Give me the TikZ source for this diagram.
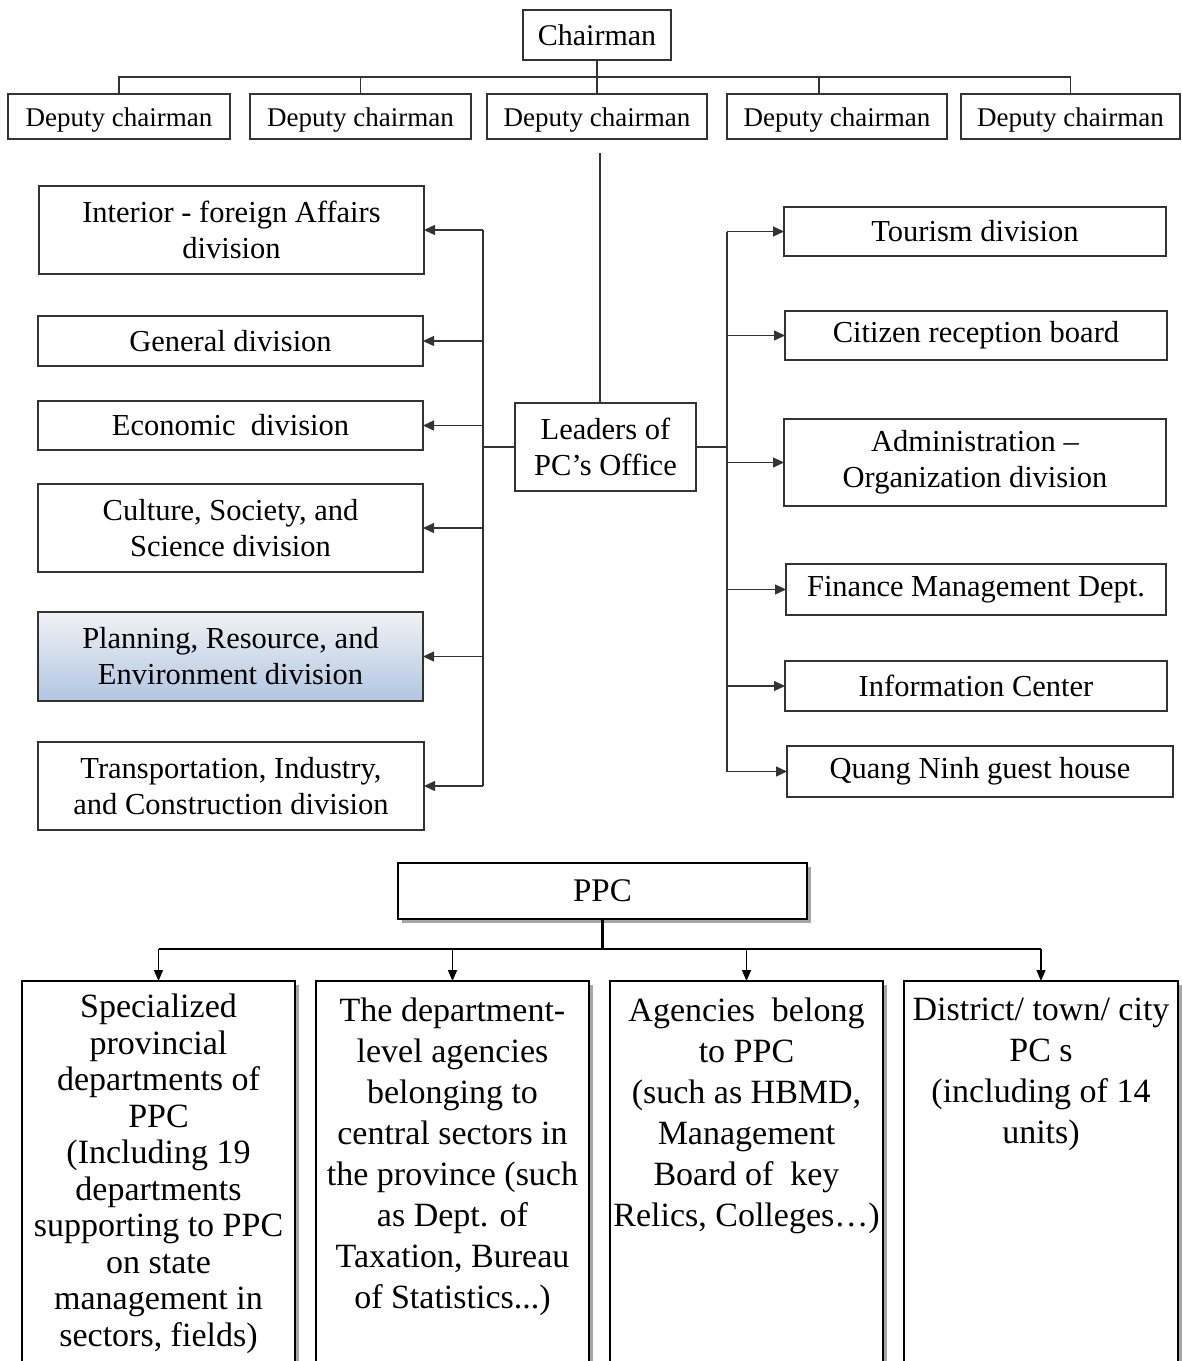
\documentclass[tikz,border=0pt]{standalone}
\usepackage{fontspec}
\setmainfont{Liberation Serif}
\usetikzlibrary{arrows.meta,shadows}
\definecolor{linegray}{HTML}{333333}
\definecolor{plantop}{HTML}{F0F2F5}
\definecolor{planmid}{HTML}{D3DDEA}
\definecolor{planbot}{HTML}{B1C6E1}
\begin{document}
\begin{tikzpicture}[x=1pt,y=-1pt,
  box/.style={draw=linegray,line width=1.3pt,fill=white,inner sep=0pt,outer sep=0pt,align=center},
  depfont/.style={font=\fontsize{27}{32}\selectfont,text height=26pt,text depth=6pt},
  midfont/.style={font=\fontsize{30.5}{36}\selectfont},
  conn/.style={draw=linegray,line width=1.3pt},
  arr/.style={conn,-{Triangle[length=11pt,width=10pt]}},
  bbox/.style={draw=black,line width=1.4pt,fill=white,inner sep=0pt,outer sep=0pt,
    drop shadow={shadow xshift=4pt,shadow yshift=-4pt,fill=black,opacity=0.35}},
  bline/.style={draw=black,line width=1.6pt},
  barr/.style={draw=black,line width=1.4pt,-{Triangle[length=11pt,width=9pt]}},
  btext/.style={inner sep=0pt,align=center,anchor=north}
]
\useasboundingbox (0,0) rectangle (1182,1361);
\clip (0,0) rectangle (1182,1361);
\fill[white] (0,0) rectangle (1182,1361);

% ---------- top: chairman and deputies ----------
\node[box,minimum width=148pt,minimum height=50pt,font=\fontsize{30}{34}\selectfont] (chair) at (597,35) {Chairman};
\node[box,depfont,minimum width=222pt,minimum height=45pt] (d1) at (119,116.5) {Deputy chairman};
\node[box,depfont,minimum width=221pt,minimum height=45pt] (d2) at (360.5,116.5) {Deputy chairman};
\node[box,depfont,minimum width=220pt,minimum height=45pt] (d3) at (597,116.5) {Deputy chairman};
\node[box,depfont,minimum width=220pt,minimum height=45pt] (d4) at (837,116.5) {Deputy chairman};
\node[box,depfont,minimum width=219pt,minimum height=45pt] (d5) at (1070.5,116.5) {Deputy chairman};
\coordinate (tbus) at (0,77);
\draw[conn] (chair.south) -- (d3.north);
\draw[conn] (d1.north) -- (d1.north |- tbus) -- (d5.north |- tbus) -- (d5.north);
\draw[conn] (d2.north |- tbus) -- (d2.north);
\draw[conn] ([xshift=-18pt]d4.north |- tbus) -- ([xshift=-18pt]d4.north);

% ---------- middle: PC's office ----------
\node[box,midfont,minimum width=181pt,minimum height=88pt] (lead) at (605.5,447) {Leaders of\\PC’s Office};
\coordinate (ltop) at (600,153);
\draw[conn] (ltop) -- (ltop |- lead.north);

\node[box,midfont,minimum width=385pt,minimum height=88pt] (interior) at (231.5,230) {Interior - foreign Affairs\\division};
\node[box,midfont,minimum width=385pt,minimum height=50pt] (general) at (230.5,341) {General division};
\node[box,midfont,minimum width=385pt,minimum height=49pt] (economic) at (230.5,425.5) {Economic\ \ division};
\node[box,midfont,minimum width=385pt,minimum height=88pt] (culture) at (230.5,528) {Culture, Society, and\\Science division};
\node[box,midfont,minimum width=385pt,minimum height=89pt,top color=plantop,middle color=planmid,bottom color=planbot] (planning) at (230.5,656.5) {Planning, Resource, and\\Environment division};
\node[box,midfont,minimum width=386pt,minimum height=88pt] (transport) at (231,786) {Transportation, Industry,\\and Construction division};

\node[box,midfont,minimum width=382pt,minimum height=49pt] (tourism) at (975,231.5) {Tourism division};
\node[box,midfont,minimum width=382pt,minimum height=49pt] (citizen) at (976,335.5) {Citizen reception board};
\node[box,midfont,minimum width=382pt,minimum height=87pt] (admin) at (975,462.5) {Administration –\\Organization division};
\node[box,midfont,minimum width=380pt,minimum height=51pt] (finance) at (976,589.5) {Finance Management Dept.};
\node[box,midfont,minimum width=382pt,minimum height=50pt] (info) at (976,686) {Information Center};
\node[box,midfont,minimum width=386pt,minimum height=51pt] (quang) at (980,771.5) {Quang Ninh guest house};

\coordinate (lbus) at (483,0);
\coordinate (rbus) at (727,0);
\draw[conn] (lead.west) -- (lead.west -| lbus);
\draw[conn] (lbus |- interior.east) -- (lbus |- transport.east);
\foreach \n in {interior,general,economic,culture,planning,transport}
  \draw[arr] (lbus |- \n.east) -- (\n.east);
\draw[conn] (lead.east) -- (lead.east -| rbus);
\draw[conn] (rbus |- tourism.west) -- (rbus |- quang.west);
\foreach \n in {tourism,citizen,admin,finance,info,quang}
  \draw[arr] (rbus |- \n.west) -- (\n.west);

% ---------- bottom: PPC ----------
\node[bbox,minimum width=409pt,minimum height=56pt,font=\fontsize{33}{38}\selectfont] (ppc) at (602.5,891) {PPC};
\node[bbox,anchor=north,minimum width=273pt,minimum height=430pt] (b1) at (158.5,981) {};
\node[bbox,anchor=north,minimum width=273pt,minimum height=430pt] (b2) at (452.5,981) {};
\node[bbox,anchor=north,minimum width=273pt,minimum height=430pt] (b3) at (746.5,981) {};
\node[bbox,anchor=north,minimum width=274pt,minimum height=430pt] (b4) at (1041,981) {};

\coordinate (bbus) at (0,949);
\draw[bline,line width=2.2pt] (ppc.south) -- (ppc.south |- bbus);
\draw[bline] (b1.north |- bbus) -- (b4.north |- bbus);
\foreach \n in {b1,b2,b3,b4}
  \draw[barr] (\n.north |- bbus) -- (\n.north);

\node[btext,font=\fontsize{34}{36.5}\selectfont] (t1) at (158.5,994)
  {Specialized\\provincial\\departments of\\PPC\\(Including 19\\departments\\supporting to PPC\\on state\\management in\\sectors, fields)};
\node[btext,font=\fontsize{34}{41}\selectfont] (t2) at (452.5,998)
  {The department-\\level agencies\\belonging to\\central sectors in\\the province (such\\as Dept. of\\Taxation, Bureau\\of Statistics...)};
\node[btext,font=\fontsize{34}{41}\selectfont] (t3) at (746.5,998)
  {Agencies\ \ belong\\to PPC\\(such as HBMD,\\Management\\Board of\ \ key\\Relics, Colleges…)};
\node[btext,font=\fontsize{34}{41}\selectfont] (t4) at (1041,998)
  {District/ town/ city\\PC s\\(including of 14\\units)};
\end{tikzpicture}
\end{document}
